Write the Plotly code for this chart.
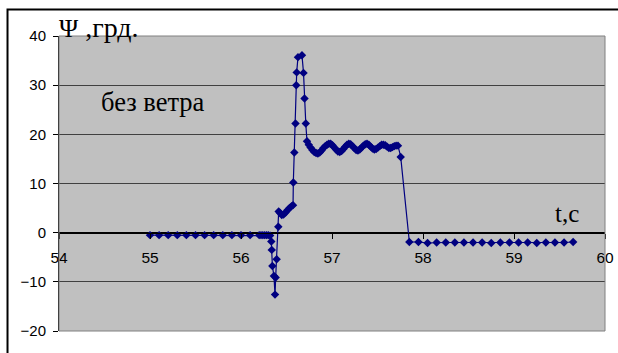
import plotly.graph_objects as go

# --- data ---
t_vals = [
    55.0, 55.1, 55.2, 55.3, 55.4, 55.5, 55.6, 55.7, 55.8, 55.9, 56.0, 56.1, 56.2,
    56.22, 56.24, 56.26, 56.28, 56.30, 56.32,
    56.333, 56.338, 56.345, 56.362, 56.374, 56.381, 56.392, 56.410,
    56.414, 56.430, 56.448, 56.468, 56.490, 56.512, 56.534, 56.556, 56.572,
    56.575, 56.586, 56.599, 56.607, 56.612, 56.626, 56.670, 56.687, 56.698, 56.712,
    56.725, 56.745, 56.765, 56.785, 56.805, 56.825, 56.845, 56.865, 56.885, 56.905,
    56.925, 56.945, 56.965, 56.985, 57.005, 57.025, 57.045, 57.065, 57.085, 57.105,
    57.125, 57.145, 57.165, 57.185, 57.205, 57.225, 57.245, 57.265, 57.285, 57.305,
    57.325, 57.345, 57.365, 57.385, 57.405, 57.425, 57.445, 57.465, 57.485, 57.505,
    57.525, 57.545, 57.565, 57.585, 57.605, 57.625, 57.645, 57.665, 57.685, 57.705,
    57.725, 57.755,
    57.85, 57.95, 58.05, 58.15, 58.25, 58.35, 58.45, 58.55, 58.65, 58.75,
    58.85, 58.95, 59.05, 59.15, 59.25, 59.35, 59.45, 59.55, 59.65,
]
psi_vals = [
    -0.5, -0.5, -0.5, -0.5, -0.5, -0.5, -0.5, -0.5, -0.5, -0.5, -0.5, -0.5, -0.5,
    -0.5, -0.5, -0.5, -0.5, -0.5, -0.6,
    -1.8, -3.5, -6.8, -8.8, -12.6, -9.1, -5.4, 1.2,
    4.3, 4.0, 3.6, 3.7, 4.1, 4.6, 5.0, 5.4, 5.6,
    10.2, 16.3, 22.2, 30.0, 32.6, 35.7, 36.1, 32.5, 27.3, 22.2,
    18.6, 17.9, 17.3, 16.8, 16.4, 16.2, 16.1, 16.3, 16.7, 17.2,
    17.6, 17.9, 18.1, 18.1, 17.8, 17.3, 16.9, 16.5, 16.4, 16.6,
    17.0, 17.5, 17.9, 18.1, 18.0, 17.6, 17.2, 16.8, 16.7, 16.9,
    17.3, 17.7, 18.0, 18.1, 17.9, 17.5, 17.1, 16.9, 17.0, 17.3,
    17.6, 17.9, 17.9, 17.8, 17.5, 17.2, 17.2, 17.4, 17.6, 17.7,
    17.7, 15.4,
    -1.9, -1.9, -2.1, -2.0, -2.0, -2.0, -2.0, -2.0, -2.0, -2.1,
    -2.0, -2.0, -2.0, -2.0, -2.1, -2.0, -2.0, -2.0, -1.9,
]

x_range = [54, 60]
y_range = [-20, 40]
x_ticks = [54, 55, 56, 57, 58, 59, 60]
y_ticks = [-20, -10, 0, 10, 20, 30, 40]

y_label = "<span style='font-size:26px'>Ψ</span> ,грд."
x_label = "t,c"
note = "без ветра"

fig = go.Figure()
fig.add_trace(go.Scatter(
    x=t_vals, y=psi_vals, mode="lines+markers",
    line=dict(color="#000080", width=1.2),
    marker=dict(symbol="diamond", size=6.5, color="#000080"),
    showlegend=False,
))

zero_pos = (0 - y_range[0]) / (y_range[1] - y_range[0])

fig.update_layout(
    width=618, height=353, autosize=False,
    margin=dict(l=59, r=13, t=36, b=22, pad=0),
    paper_bgcolor="white", plot_bgcolor="#C0C0C0",
    font=dict(family="Liberation Sans, Arial", size=15, color="black"),
    xaxis=dict(
        range=x_range, tickvals=x_ticks, showgrid=False, zeroline=False,
        showline=True, linecolor="black", linewidth=1,
        ticks="outside", ticklen=5, tickcolor="black",
        anchor="free", position=zero_pos, automargin=False,
        tickfont=dict(size=15.5), ticklabelstandoff=6,
    ),
    yaxis=dict(
        range=y_range, tickvals=y_ticks, showgrid=True, gridcolor="#404040", gridwidth=1,
        zeroline=True, zerolinecolor="black", zerolinewidth=1,
        showline=True, linecolor="black", linewidth=1,
        ticks="outside", ticklen=5, tickcolor="black", automargin=False,
        tickfont=dict(size=15), ticklabelstandoff=4,
    ),
    shapes=[
        dict(type="rect", xref="paper", yref="paper", x0=0, y0=0, x1=1, y1=1,
             line=dict(color="#808080", width=1), layer="above"),
        dict(type="rect", xref="paper", yref="paper",
             x0=-0.0943, y0=-0.2, x1=1.1, y1=1.0898,
             line=dict(color="black", width=2), layer="above"),
    ],
    annotations=[
        dict(text=y_label, xref="paper", yref="paper", x=-0.004, y=1.03,
             xanchor="left", yanchor="middle", showarrow=False,
             font=dict(family="Liberation Serif, Times New Roman", size=28, color="black")),
        dict(text=note, xref="paper", yref="paper", x=0.173, y=0.775,
             xanchor="center", yanchor="middle", showarrow=False,
             font=dict(family="Liberation Serif, Times New Roman", size=26.5, color="black")),
        dict(text=x_label, xref="paper", yref="paper", x=0.9295, y=0.397,
             xanchor="center", yanchor="middle", showarrow=False,
             font=dict(family="Liberation Serif, Times New Roman", size=25, color="black")),
    ],
)

fig.write_html("out.html", config={"displayModeBar": False},
               post_script="document.body.style.margin='0px';")
